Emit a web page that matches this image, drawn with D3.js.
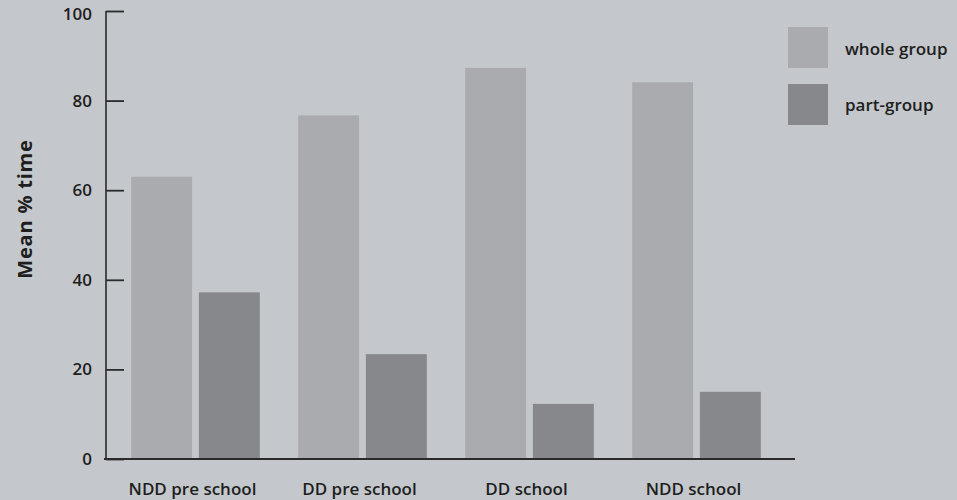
<!DOCTYPE html>
<html>
<head>
<meta charset="utf-8">
<script src="https://cdn.jsdelivr.net/npm/d3@7"></script>
<style>
  html, body { margin: 0; padding: 0; background: #c4c8cc; }
  svg { display: block; }
  text { font-family: "Open Sans", sans-serif; font-weight: 600; fill: #1e1e1e; }
</style>
</head>
<body>
<svg id="chart" width="957" height="500"></svg>
<script>
const categories = ["NDD pre school", "DD pre school", "DD school", "NDD school"];
const seriesNames = ["whole group", "part-group"];
const wholeGroup = [63, 76.7, 87.3, 84.1];
const partGroup = [37.2, 23.4, 12.3, 15];
const yTicks = [0, 20, 40, 60, 80, 100];
const yTitle = "Mean % time";

const colors = { "whole group": "#a9abaf", "part-group": "#86888c" };

const svg = d3.select("#chart");
const W = 957, H = 500;
svg.append("rect").attr("width", W).attr("height", H).attr("fill", "#c4c8cc");

const x0 = d3.scaleBand().domain(categories).range([112, 780]).paddingInner(0.23).paddingOuter(0.115);
const x1 = d3.scaleBand().domain(seriesNames).range([0, x0.bandwidth()]).paddingInner(0.1);
const y = d3.scaleLinear().domain([0, 100]).range([459, 11]);

const rows = categories.map((c, i) => ({ cat: c, values: [
  { key: "whole group", v: wholeGroup[i] },
  { key: "part-group", v: partGroup[i] }
]}));

const g = svg.append("g");
g.selectAll("g.grp").data(rows).join("g")
  .attr("class", "grp")
  .attr("transform", d => `translate(${x0(d.cat)},0)`)
  .selectAll("rect").data(d => d.values).join("rect")
  .attr("x", d => x1(d.key))
  .attr("width", x1.bandwidth())
  .attr("y", d => y(d.v))
  .attr("height", d => y(0) - y(d.v))
  .attr("fill", d => colors[d.key]);

// Y axis
const yAxis = d3.axisRight(y).tickValues(yTicks).tickSize(18).tickFormat("");
const ya = svg.append("g").attr("transform", "translate(106,0)").call(yAxis);
ya.select(".domain").attr("stroke", "#2a2a2a").attr("stroke-width", 1.6).attr("d", `M0,${y(100)}V${y(0)}`);
ya.selectAll(".tick line").attr("stroke", "#2a2a2a").attr("stroke-width", 1.8);
svg.append("g").selectAll("text").data(yTicks).join("text")
  .attr("x", 92).attr("y", d => y(d) + 6 + (d === 100 ? 3 : 0))
  .attr("text-anchor", "end")
  .style("font-size", "17px")
  .text(d => d);

// X axis line
const xa = svg.append("g").attr("transform", "translate(0,459)")
  .call(d3.axisBottom(x0).tickSize(0).tickFormat(""));
xa.select(".domain").attr("stroke", "#2a2a2a").attr("stroke-width", 2.2).attr("d", "M104,0H795");

// Category labels
svg.append("g").selectAll("text").data(categories).join("text")
  .attr("x", d => x0(d) + x0.bandwidth() / 2 - 3)
  .attr("y", 495)
  .attr("text-anchor", "middle")
  .style("font-size", "17px")
  .text(d => d);

// Y title
svg.append("text")
  .attr("transform", "translate(32,209) rotate(-90)")
  .attr("text-anchor", "middle")
  .style("font-size", "20px")
  .style("font-weight", "700")
  .style("letter-spacing", "0.8px")
  .text(yTitle);

// Legend
const lg = svg.append("g");
seriesNames.forEach((s, i) => {
  lg.append("rect").attr("x", 788).attr("y", 27 + i * 57).attr("width", 40).attr("height", 41).attr("fill", colors[s]);
  lg.append("text").attr("x", 845).attr("y", 55 + i * 56).style("font-size", "17px").text(s);
});
</script>
</body>
</html>
